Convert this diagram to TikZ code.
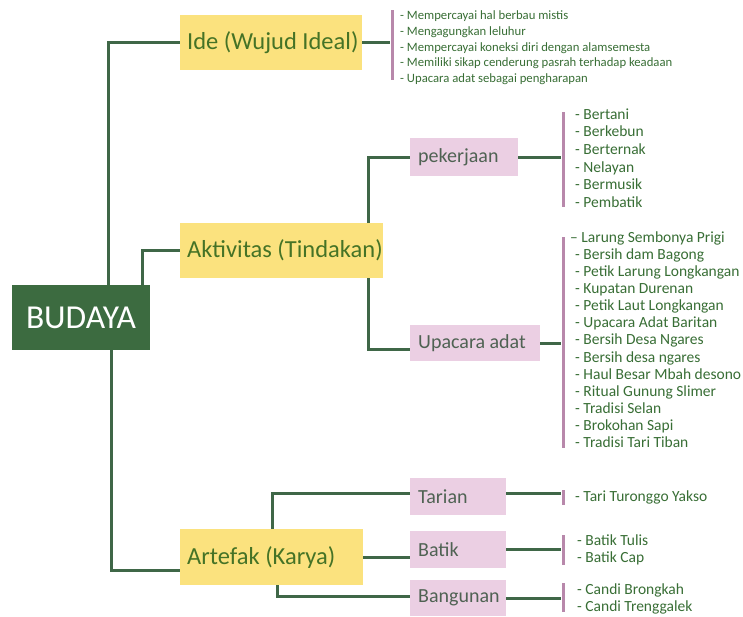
\documentclass[tikz,border=0pt]{standalone}
\usepackage{fontspec}
\setmainfont{Carlito}
\definecolor{budgreen}{HTML}{3C6B40}
\definecolor{linegreen}{HTML}{3F6747}
\definecolor{yel}{HTML}{FBE27E}
\definecolor{pinkbox}{HTML}{EBCFE3}
\definecolor{barpink}{HTML}{B888AB}
\definecolor{ytext}{HTML}{457326}
\definecolor{ltext}{HTML}{386E35}
\definecolor{ptext}{HTML}{4F6253}
\newcommand\myleft[2]{\makebox[#1][l]{#2}}
\begin{document}
\begin{tikzpicture}[x=1pt,y=-1pt,
  conn/.style={draw=linegreen,line width=3pt},
  ybox/.style={fill=yel,anchor=north west,inner xsep=7pt,inner ysep=0pt,text=ytext,font=\fontsize{24.5}{27}\selectfont},
  pbox/.style={fill=pinkbox,anchor=north west,inner xsep=8pt,inner ysep=0pt,text=ptext,font=\fontsize{20}{23}\selectfont},
  pbar/.style={fill=barpink,minimum width=3pt,inner sep=0pt,anchor=north},
  lst/.style={anchor=north west,inner sep=0pt,align=left,text=ltext},
]
\useasboundingbox[fill=white] (0,0) rectangle (743,616);
% main nodes
\node[fill=budgreen,text=white,minimum width=138pt,minimum height=65pt,inner sep=0pt,font=\fontsize{33.5}{36}\selectfont] (bud) at (81,317.5) {BUDAYA};
\node[ybox,minimum height=55pt] (ide) at (180,15) {\myleft{168pt}{Ide (Wujud Ideal)}};
\node[ybox,minimum height=55pt] (akt) at (180,223) {\myleft{189pt}{Aktivitas (Tindakan)}};
\node[ybox,minimum height=56pt] (art) at (180,529) {\myleft{169pt}{Artefak (Karya)}};
% sub nodes
\node[pbox,minimum height=38pt] (pek) at (410,138) {\myleft{92pt}{pekerjaan}};
\node[pbox,minimum height=36pt] (upa) at (410,325) {\myleft{114pt}{Upacara adat}};
\node[pbox,minimum height=37pt] (tar) at (410,478) {\myleft{80pt}{Tarian}};
\node[pbox,minimum height=37pt] (bat) at (410,531) {\myleft{80pt}{Batik}};
\node[pbox,minimum height=36pt] (ban) at (410,580) {\myleft{80pt}{Bangunan}};
% bars
\node[pbar,minimum height=70pt] (b1) at (392,10) {};
\node[pbar,minimum height=95pt] (b2) at (563,112) {};
\node[pbar,minimum height=211pt] (b3) at (563,237) {};
\node[pbar,minimum height=15pt] (b4) at (563,490) {};
\node[pbar,minimum height=30pt] (b5) at (563,535) {};
\node[pbar,minimum height=29pt] (b6) at (563,583) {};
% lists
\node[lst,font=\fontsize{12.7}{15.75}\selectfont] (l1) at (400,10.5) {- Mempercayai hal berbau mistis\\- Mengagungkan leluhur\\- Mempercayai koneksi diri dengan alamsemesta\\- Memiliki sikap cenderung pasrah terhadap keadaan\\- Upacara adat sebagai pengharapan};
\node[lst,font=\fontsize{15.5}{17.6}\selectfont] (l2) at (575,108.5) {- Bertani\\- Berkebun\\- Berternak\\- Nelayan\\- Bermusik\\- Pembatik};
\node[lst,font=\fontsize{15.5}{17.08}\selectfont] (l3) at (570,231.5) {-- Larung Sembonya Prigi\\\hspace*{5pt}- Bersih dam Bagong\\\hspace*{5pt}- Petik Larung Longkangan\\\hspace*{5pt}- Kupatan Durenan\\\hspace*{5pt}- Petik Laut Longkangan\\\hspace*{5pt}- Upacara Adat Baritan\\\hspace*{5pt}- Bersih Desa Ngares\\\hspace*{5pt}- Bersih desa ngares\\\hspace*{5pt}- Haul Besar Mbah desono\\\hspace*{5pt}- Ritual Gunung Slimer\\\hspace*{5pt}- Tradisi Selan\\\hspace*{5pt}- Brokohan Sapi\\\hspace*{5pt}- Tradisi Tari Tiban};
\node[lst,font=\fontsize{15.5}{17}\selectfont] (l4) at (575,490.5) {- Tari Turonggo Yakso};
\node[lst,font=\fontsize{15.5}{17}\selectfont] (l5) at (577,534.5) {- Batik Tulis\\- Batik Cap};
\node[lst,font=\fontsize{15.5}{17}\selectfont] (l6) at (577,583.5) {- Candi Brongkah\\- Candi Trenggalek};
% connectors
\draw[conn] ([xshift=27pt]bud.north) |- (ide.west);
\draw[conn] ([xshift=61pt]bud.north) |- (akt.west);
\draw[conn] ([xshift=30pt]bud.south) |- ([yshift=-13pt]art.west);
\draw[conn] (ide.east) -- (ide.east -| b1.west);
\draw[conn] ([xshift=-15pt]akt.north east) |- (pek.west);
\draw[conn] ([xshift=-15pt]akt.south east) |- ([yshift=-6pt]upa.west);
\draw[conn] (pek.east) -- (pek.east -| b2.west);
\draw[conn] (upa.east) -- (upa.east -| b3.west);
\draw[conn] ([xshift=92pt]art.north west) |- ([yshift=3pt]tar.west);
\draw[conn] (art.east) -- (art.east -| bat.west);
\draw[conn] ([xshift=97pt]art.south west) |- ([yshift=2pt]ban.west);
\draw[conn] ([yshift=3pt]tar.east) -- ([yshift=3pt]tar.east -| b4.west);
\draw[conn] (bat.east) -- (bat.east -| b5.west);
\draw[conn] (ban.east) -- (ban.east -| b6.west);
\end{tikzpicture}
\end{document}
